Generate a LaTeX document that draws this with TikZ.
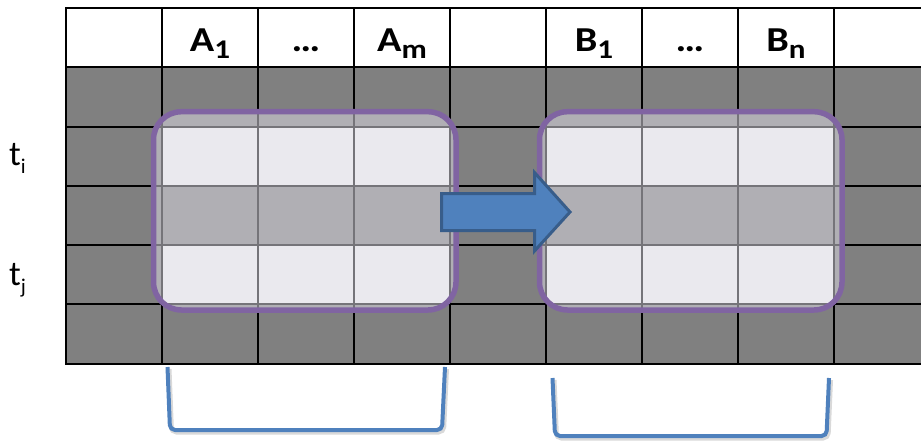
\documentclass[tikz,border=0pt]{standalone}
\usepackage{fontspec}
\setmainfont{Carlito}
\usepackage{graphicx}
\definecolor{cellgrey}{HTML}{808080}
\definecolor{hilite}{RGB}{218,216,225}
\definecolor{frame}{HTML}{8064A2}
\definecolor{arrowfill}{HTML}{4F81BD}
\definecolor{arrowline}{HTML}{385D8A}
\definecolor{brack}{HTML}{4F81BD}
\newcommand{\hdtext}[2]{\scalebox{1.15}[1]{\fontsize{35}{35}\selectfont\bfseries #1\raisebox{-6.5pt}{\fontsize{27}{27}\selectfont #2}}}
\newcommand{\rowlab}[2]{{\fontsize{35}{35}\selectfont #1\raisebox{-8pt}{\fontsize{21}{21}\selectfont #2}}}
\tikzset{
  cell/.style={draw=black, line width=2pt, minimum width=96pt, minimum height=59.27pt,
    inner sep=0pt, outer sep=0pt, anchor=north west},
  hdr/.style={inner sep=0pt, anchor=base},
  rowtag/.style={inner sep=0pt, anchor=base west},
  hlbox/.style={draw=frame, line width=5.5pt, fill=hilite, fill opacity=0.54, draw opacity=1,
    rounded corners=28pt, inner sep=0pt, outer sep=0pt},
  blockarrow/.style={fill=arrowfill, draw=arrowline, line width=3pt, line join=miter},
  bracketline/.style={draw=brack, line width=4pt, rounded corners=5pt},
  bracketshadow/.style={draw=black, opacity=0.15, line width=5pt, rounded corners=5pt}
}
\begin{document}
\begin{tikzpicture}[x=1pt,y=-1pt]
\useasboundingbox (0,0) rectangle (921,440);
\clip (0,0) rectangle (921,440);
% grid
\foreach \r in {0,...,5}{
  \foreach \c in {0,...,8}{
    \pgfmathtruncatemacro{\iswhite}{(\r==0) || ((\r==2 || \r==4) && \c!=0 && \c!=4 && \c!=8)}
    \ifnum\iswhite=1 \def\cf{white}\else\def\cf{cellgrey}\fi
    \node[cell, fill=\cf] (c-\r-\c) at ({66+96*\c},{8+59.27*\r}) {};
  }
}
% headers
\path (c-0-1.south) ++(0,-15.6) node[hdr] (hA1) {\hdtext{A}{1}};
\path (c-0-2.south) ++(0,-15.6) node[hdr] (hAd) {\hdtext{…}{}};
\path (c-0-3.south) ++(0,-15.6) node[hdr] (hAm) {\hdtext{A}{m}};
\path (c-0-5.south) ++(0,-15.6) node[hdr] (hB1) {\hdtext{B}{1}};
\path (c-0-6.south) ++(0,-15.6) node[hdr] (hBd) {\hdtext{…}{}};
\path (c-0-7.south) ++(0,-15.6) node[hdr] (hBn) {\hdtext{B}{n}};
% row labels
\node[rowtag] (ti) at (9,165.7) {\rowlab{t}{i}};
\node[rowtag] (tj) at (9,285.7) {\rowlab{t}{j}};
% highlight boxes
\node[hlbox, minimum width=302.5pt, minimum height=198.3pt] (selA) at (304.75,210.85) {};
\node[hlbox, minimum width=302.5pt, minimum height=198.3pt] (selB) at (690.75,210.85) {};
% block arrow
\path[blockarrow] (441.5,193.5) -- (534.5,193.5) -- (534.5,172.5) -- (570,212) -- (534.5,251) -- (534.5,230.5) -- (441.5,230.5) -- cycle;
% brackets
\coordinate (la) at (167.5,367);
\coordinate (lb) at (170,430);
\coordinate (lc) at (442,430);
\coordinate (ld) at (445,367);
\coordinate (ra) at (552.5,378);
\coordinate (rb) at (555,436);
\coordinate (rc) at (826.5,436);
\coordinate (rd) at (829,378);
\draw[bracketshadow] ([shift={(1.5,2)}]la) -- ([shift={(1.5,2)}]lb) -- ([shift={(1.5,2)}]lc) -- ([shift={(1.5,2)}]ld);
\draw[bracketshadow] ([shift={(1.5,2)}]ra) -- ([shift={(1.5,2)}]rb) -- ([shift={(1.5,2)}]rc) -- ([shift={(1.5,2)}]rd);
\draw[bracketline] (la) -- (lb) -- (lc) -- (ld);
\draw[bracketline] (ra) -- (rb) -- (rc) -- (rd);
\end{tikzpicture}
\end{document}
